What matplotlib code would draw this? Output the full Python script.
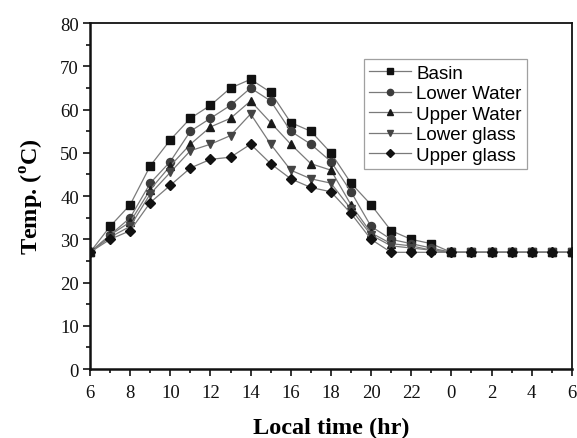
import matplotlib
matplotlib.use("Agg")
import matplotlib.pyplot as plt
from matplotlib.ticker import MultipleLocator, FuncFormatter

# hourly readings from 6 h through to 6 h the next day
hours = list(range(6, 31))
night = [27] * 7

basin = [27, 33, 38, 47, 53, 58, 61, 65, 67, 64, 57, 55, 50, 43, 38, 32, 30, 29] + night
lower_water = [27, 31, 35, 43, 48, 55, 58, 61, 65, 62, 55, 52, 48, 41, 33, 30, 29, 28] + night
upper_water = [27, 31, 34, 41.5, 47, 52, 56, 58, 62, 57, 52, 47.5, 46, 38, 31.5, 29, 28.5, 27.5] + night
lower_glass = [27, 30.5, 33, 40.5, 45.5, 50.5, 52, 54, 59, 52, 46, 44, 43, 37, 31, 28.5, 28, 27.5] + night
upper_glass = [27, 30, 32, 38.5, 42.5, 46.5, 48.5, 49, 52, 47.5, 44, 42, 41, 36, 30, 27, 27, 27] + night

series = [
    ("Basin", basin, "s", "#111111", 5.8),
    ("Lower Water", lower_water, "o", "#3c3c3c", 5.8),
    ("Upper Water", upper_water, "^", "#1a1a1a", 6.3),
    ("Lower glass", lower_glass, "v", "#444444", 6.3),
    ("Upper glass", upper_glass, "D", "#111111", 5.2),
]

serif = "Liberation Serif"

fig = plt.figure(figsize=(5.77, 4.39), dpi=100)
ax = fig.add_axes([0.156, 0.157, 0.835, 0.788])

for name, vals, mk, col, ms in series:
    ax.plot(hours, vals, color="#7a7a7a", lw=0.9, marker=mk, markersize=ms,
            markerfacecolor=col, markeredgecolor=col, label=name)

ax.set_xlim(6, 30)
ax.set_ylim(0, 80)
ax.xaxis.set_major_locator(MultipleLocator(2))
ax.xaxis.set_minor_locator(MultipleLocator(1))
ax.yaxis.set_major_locator(MultipleLocator(10))
ax.yaxis.set_minor_locator(MultipleLocator(5))
ax.xaxis.set_major_formatter(FuncFormatter(lambda v, p: f"{int(v) % 24}"))

ax.tick_params(which="both", direction="out", top=False, right=False,
               width=1.2, colors="#111111")
ax.tick_params(which="major", length=5, labelsize=13.5)
ax.tick_params(axis="x", which="major", pad=6)
ax.tick_params(axis="y", which="major", pad=3)
ax.tick_params(which="minor", length=3)
for lab in ax.get_xticklabels() + ax.get_yticklabels():
    lab.set_family(serif)

for side in ["left", "bottom"]:
    ax.spines[side].set_linewidth(1.8)
for side in ["top", "right"]:
    ax.spines[side].set_linewidth(1.3)
for sp in ax.spines.values():
    sp.set_color("#111111")

ax.set_xlabel("Local time (hr)", family=serif, fontsize=17.5, fontweight="bold", labelpad=11)
ax.set_ylabel(r"Temp. ($^{\mathregular{o}}$C)", family=serif, fontsize=17.5,
              fontweight="bold", labelpad=10)

leg = ax.legend(loc="upper left", bbox_to_anchor=(0.568, 0.896), frameon=True,
                fancybox=False, edgecolor="#888888", handlelength=2.2,
                labelspacing=0.18, borderpad=0.3, handletextpad=0.3,
                borderaxespad=0, prop={"family": "Liberation Sans", "size": 13.5})
leg.get_frame().set_linewidth(0.9)
for h in leg.legend_handles:
    h.set_markersize(4.5)

fig.savefig("out.png", dpi=100)
